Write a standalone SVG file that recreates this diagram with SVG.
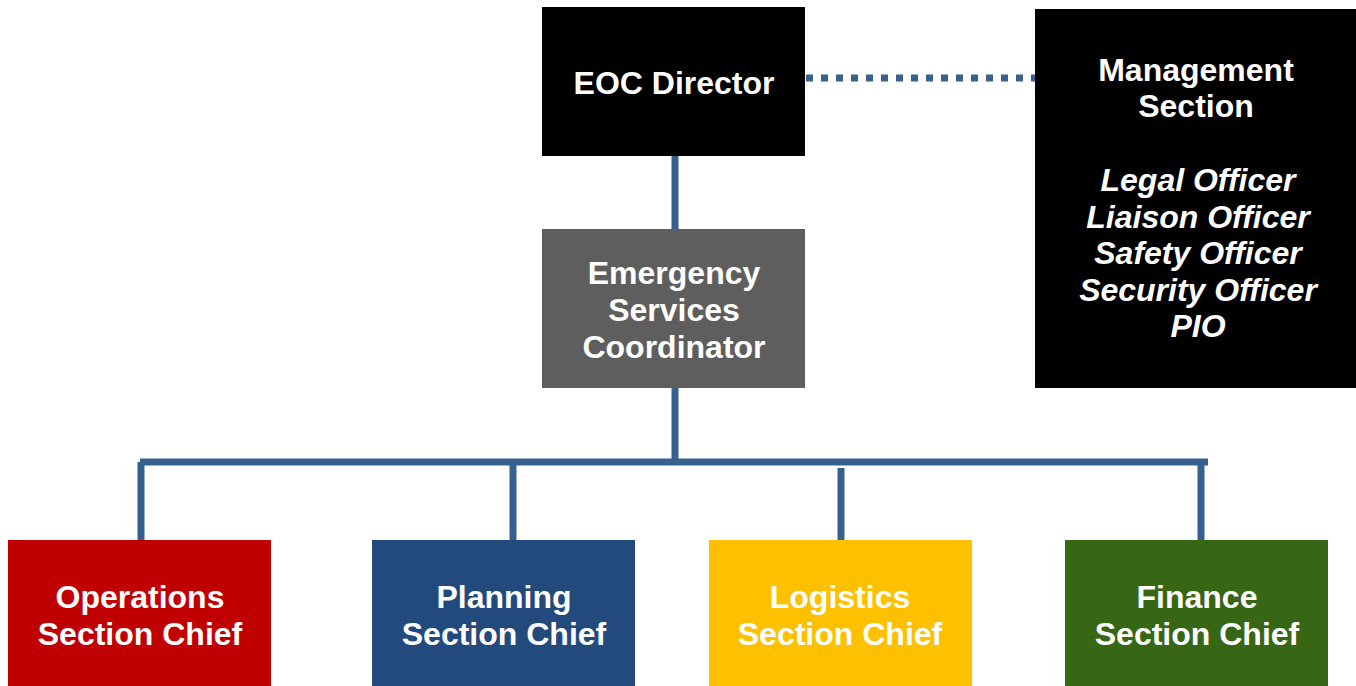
<svg xmlns="http://www.w3.org/2000/svg" width="1356" height="686" viewBox="0 0 1356 686">
<style>
text{font-family:"Liberation Sans",Arial,sans-serif;font-weight:bold;font-size:32px;fill:#fff;text-anchor:middle}
.it{font-style:italic}
.c{stroke:#36618F;fill:none}
</style>
<rect width="1356" height="686" fill="#fff"/>
<g id="connectors">
<line class="c" x1="806" y1="78" x2="1035" y2="78" stroke-width="7" stroke-dasharray="7 8"/>
<line class="c" x1="675" y1="156" x2="675" y2="229" stroke-width="7"/>
<line class="c" x1="675" y1="388" x2="675" y2="462" stroke-width="7"/>
<line class="c" x1="140" y1="462" x2="1208" y2="462" stroke-width="7"/>
<line class="c" x1="141" y1="462" x2="141" y2="540" stroke-width="7"/>
<line class="c" x1="513" y1="462" x2="513" y2="540" stroke-width="7"/>
<line class="c" x1="841" y1="468" x2="841" y2="540" stroke-width="7"/>
<line class="c" x1="1201" y1="462" x2="1201" y2="540" stroke-width="7"/>
</g>
<g id="eoc-director">
<rect x="542" y="7" width="263" height="149" fill="#000"/>
<text x="674" y="94">EOC Director</text>
</g>
<g id="management-section">
<rect x="1035" y="9" width="321" height="379" fill="#000"/>
<text x="1196" y="81">Management</text>
<text x="1196" y="117">Section</text>
<text class="it" x="1198" y="191">Legal Officer</text>
<text class="it" x="1198" y="228">Liaison Officer</text>
<text class="it" x="1198" y="264">Safety Officer</text>
<text class="it" x="1198" y="301">Security Officer</text>
<text class="it" x="1198" y="337">PIO</text>
</g>
<g id="emergency-services-coordinator">
<rect x="542" y="229" width="263" height="159" fill="#5E5E5E"/>
<text x="674" y="284">Emergency</text>
<text x="674" y="321">Services</text>
<text x="674" y="358">Coordinator</text>
</g>
<g id="operations">
<rect x="8" y="540" width="263" height="146" fill="#C00000"/>
<text x="140" y="608">Operations</text>
<text x="140" y="645">Section Chief</text>
</g>
<g id="planning">
<rect x="372" y="540" width="263" height="146" fill="#234A7D"/>
<text x="504" y="608">Planning</text>
<text x="504" y="645">Section Chief</text>
</g>
<g id="logistics">
<rect x="709" y="540" width="263" height="146" fill="#FFC000"/>
<text x="840" y="608">Logistics</text>
<text x="840" y="645">Section Chief</text>
</g>
<g id="finance">
<rect x="1065" y="540" width="263" height="146" fill="#376614"/>
<text x="1197" y="608">Finance</text>
<text x="1197" y="645">Section Chief</text>
</g>
</svg>
